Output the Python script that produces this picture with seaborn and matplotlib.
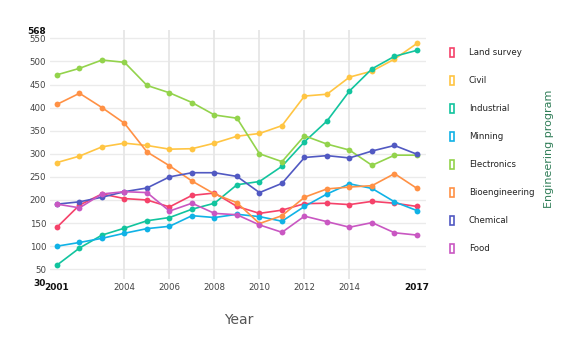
import numpy as np
import pandas as pd
import matplotlib
matplotlib.use("Agg")
import matplotlib.pyplot as plt
from matplotlib.patches import Patch
import seaborn as sns

years = list(range(2001, 2018))
programs = ["Land survey", "Civil", "Industrial", "Minning", "Electronics",
            "Bioengineering", "Chemical", "Food"]

land_survey = [141, 189, 213, 203, 200, 185, 210, 215, 186, 171, 178, 192, 193, 190, 197, 193, 186]
civil = [281, 295, 315, 323, 318, 310, 311, 323, 338, 344, 361, 425, 429, 466, 479, 505, 539]
industrial = [59, 96, 124, 139, 155, 162, 180, 193, 233, 240, 273, 326, 371, 436, 484, 511, 524]
minning = [100, 108, 117, 128, 138, 143, 166, 162, 169, 164, 154, 186, 213, 235, 225, 196, 177]
electronics = [471, 485, 503, 498, 448, 432, 411, 384, 377, 300, 283, 339, 321, 308, 275, 297, 297]
bioengineering = [407, 431, 400, 366, 304, 274, 241, 213, 194, 149, 166, 206, 224, 228, 231, 257, 225]
chemical = [191, 196, 206, 218, 226, 250, 259, 259, 251, 216, 236, 292, 296, 291, 306, 318, 299]
food = [191, 183, 213, 218, 216, 176, 193, 171, 168, 146, 130, 165, 153, 141, 151, 129, 124]

series = [land_survey, civil, industrial, minning, electronics, bioengineering, chemical, food]
colors = ["#f5426a", "#ffc543", "#12c49e", "#10b2e6", "#93d34c", "#ff9145", "#5159c2", "#c957c2"]

y_ticks = [30, 50, 100, 150, 200, 250, 300, 350, 400, 450, 500, 550, 568]
x_ticks = [2001, 2004, 2006, 2008, 2010, 2012, 2014, 2017]

df = pd.DataFrame({
    "Year": years * len(programs),
    "Value": sum(series, []),
    "Program": sum([[p] * len(years) for p in programs], []),
})

sns.set_style("white")
plt.rcParams["font.family"] = ["DejaVu Sans"]

fig = plt.figure(figsize=(5.86, 3.48), dpi=100)
ax = fig.add_axes([50.25 / 586, 1 - 278.5 / 348, (426 - 50.25) / 586, (278.5 - 30) / 348])

for y in y_ticks[1:-1]:
    ax.axhline(y, color="#ebebeb", lw=1.0, zorder=0)
for x in x_ticks[1:-1]:
    ax.axvline(x, color="#e6e6e6", lw=1.3, zorder=0)

palette = dict(zip(programs, colors))
sns.lineplot(data=df, x="Year", y="Value", hue="Program", hue_order=programs,
             palette=palette, marker="o", markersize=4.2, markeredgewidth=0,
             linewidth=1.2, legend=False, ax=ax)

ax.set_xlim(2000.7, 2017.4)
ax.set_ylim(30, 568)
for s in ax.spines.values():
    s.set_visible(False)

ax.set_xticks(x_ticks)
ax.set_xticklabels([str(t) for t in x_ticks])
ax.set_yticks(y_ticks)
ax.set_yticklabels([str(t) for t in y_ticks])
ax.tick_params(axis="both", length=0, labelsize=6.2, colors="#444444", pad=3)
for lab in ax.get_xticklabels():
    if lab.get_text() in ("2001", "2017"):
        lab.set_fontweight("bold")
        lab.set_color("#111111")
        lab.set_fontsize(6.5)
for lab in ax.get_yticklabels():
    if lab.get_text() in ("30", "568"):
        lab.set_fontweight("bold")
        lab.set_color("#111111")
        lab.set_fontsize(6.5)
    if lab.get_text() == "30":
        lab.set_va("top")
ax.set_xlabel("Year", fontsize=10, color="#555555")
ax.xaxis.set_label_coords((239 - 50.25) / (426 - 50.25), -0.14)
ax.set_ylabel("")

handles = [Patch(facecolor="none", edgecolor=c, linewidth=1.2) for c in colors]
leg = fig.legend(handles, programs, loc="upper left", bbox_to_anchor=(449.5 / 586, 1 - 48 / 348),
                 frameon=False, fontsize=6.2, handlelength=0.5, handleheight=1.25,
                 handletextpad=1.75, labelspacing=2.15, borderaxespad=0, borderpad=0)
for t in leg.get_texts():
    t.set_color("#222222")

fig.text(549 / 586, 1 - 149 / 348, "Engineering program", rotation=90, ha="center", va="center",
         fontsize=8, color="#2f7d57")

fig.savefig("out.png", dpi=100)
